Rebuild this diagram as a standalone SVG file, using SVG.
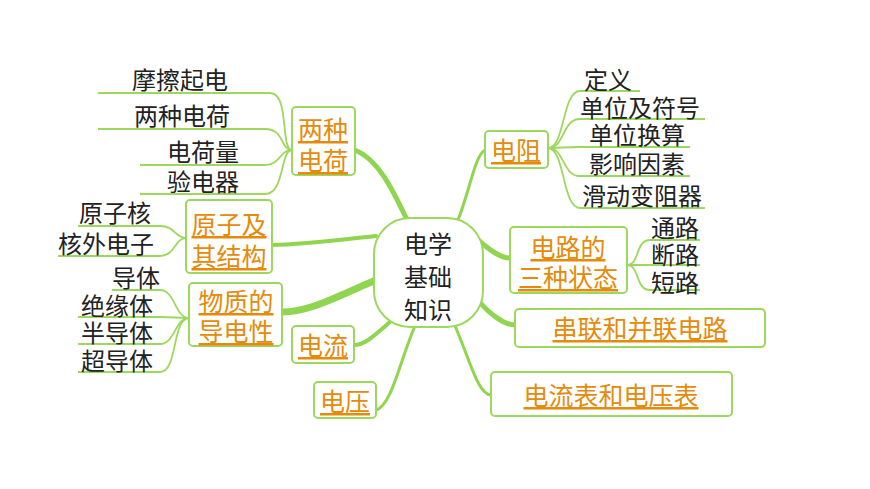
<svg xmlns="http://www.w3.org/2000/svg" width="870" height="489" viewBox="0 0 870 489">
<style>
text{font-family:"Noto Sans CJK SC",sans-serif;font-size:24px;text-anchor:middle}
.leaf{fill:#222}
.t{fill:#E58A0A;text-decoration:underline;font-size:25px}
.box{fill:#fff;stroke:#9CD85E;stroke-width:2}
.br{fill:none;stroke:#8FD54F;stroke-linecap:round}
.ln{fill:none;stroke:#9CD85E;stroke-width:1.8}
</style>
<rect width="870" height="489" fill="#fff"/>
<g id="connectors">
<path class="br" stroke-width="5" d="M408,222 C395,195 380,160 355,150"/>
<path class="br" stroke-width="4" d="M376,236 C340,240 300,245 272,245"/>
<path class="br" stroke-width="7" d="M376,280 C340,295 310,312 282,312"/>
<path class="br" stroke-width="4" d="M390,322 C375,335 365,345 354,345"/>
<path class="br" stroke-width="3" d="M415,326 C400,360 392,405 376,410"/>
<path class="br" stroke-width="3" d="M458,220 C470,190 475,155 485,150"/>
<path class="br" stroke-width="5" d="M478,240 C490,250 500,258 510,258"/>
<path class="br" stroke-width="5" d="M478,300 C490,315 505,325 515,325"/>
<path class="br" stroke-width="3" d="M455,326 C470,360 478,395 491,395"/>
<path class="ln" d="M98,93 H270 C290,93 280,150 292,150"/>
<path class="ln" d="M98,129 H265 C285,129 280,150 292,150"/>
<path class="ln" d="M140,165 H265 C280,165 280,150 292,150"/>
<path class="ln" d="M140,194 H265 C285,194 280,150 292,150"/>
<path class="ln" d="M78,226 H160 C175,226 175,238 186,238"/>
<path class="ln" d="M58,256 H160 C175,256 175,238 186,238"/>
<path class="ln" d="M112,290 H160 C175,290 175,318 189,318"/>
<path class="ln" d="M78,317 H160 C175,317 175,318 189,318"/>
<path class="ln" d="M78,344 H160 C175,344 175,318 189,318"/>
<path class="ln" d="M78,372 H160 C178,372 172,318 189,318"/>
<path class="ln" d="M548,148 C565,148 562,91 580,91 H640"/>
<path class="ln" d="M548,148 C565,148 562,119 580,119 H705"/>
<path class="ln" d="M548,148 C565,148 562,147 580,147 H690"/>
<path class="ln" d="M548,148 C565,148 562,176 580,176 H690"/>
<path class="ln" d="M548,148 C565,148 562,208 580,208 H705"/>
<path class="ln" d="M627,265 C640,265 635,240 650,240 H700"/>
<path class="ln" d="M627,265 H700"/>
<path class="ln" d="M627,265 C640,265 635,290 650,290 H700"/>
</g>
<g id="center"><rect x="374" y="218" width="109" height="109" rx="36" class="box" stroke-width="2.5"/>
<text x="428" y="253" font-size="26" fill="#222">电学</text>
<text x="428" y="286" font-size="26" fill="#222">基础</text>
<text x="428" y="319" font-size="26" fill="#222">知识</text></g>
<g id="n-lzdh"><rect x="292" y="107" width="63" height="68" rx="4" class="box"/>
<text x="323" y="139" class="t">两种</text><text x="323" y="170" class="t">电荷</text></g>
<g id="n-yzj"><rect x="186" y="200" width="86" height="73" rx="4" class="box"/>
<text x="229" y="234" class="t">原子及</text><text x="229" y="266" class="t">其结构</text></g>
<g id="n-wz"><rect x="189" y="283" width="93" height="63" rx="4" class="box"/>
<text x="236" y="311" class="t">物质的</text><text x="236" y="341" class="t">导电性</text></g>
<g id="n-dl"><rect x="292" y="326" width="62" height="37" rx="4" class="box"/>
<text x="323" y="355" class="t">电流</text></g>
<g id="n-dy"><rect x="314" y="382" width="62" height="36" rx="4" class="box"/>
<text x="345" y="411" class="t">电压</text></g>
<g id="n-dz"><rect x="485" y="131" width="63" height="37" rx="4" class="box"/>
<text x="516" y="160" class="t">电阻</text></g>
<g id="n-zt"><rect x="510" y="227" width="117" height="66" rx="4" class="box"/>
<text x="568" y="257" class="t">电路的</text><text x="568" y="287" class="t">三种状态</text></g>
<g id="n-cl"><rect x="515" y="309" width="250" height="38" rx="4" class="box"/>
<text x="640" y="338" class="t">串联和并联电路</text></g>
<g id="n-dlb"><rect x="491" y="372" width="241" height="44" rx="4" class="box"/>
<text x="611" y="405" class="t">电流表和电压表</text></g>
<g id="leaves">
<text x="180" y="89" class="leaf">摩擦起电</text>
<text x="182" y="125" class="leaf">两种电荷</text>
<text x="203" y="161" class="leaf">电荷量</text>
<text x="203" y="191" class="leaf">验电器</text>
<text x="115" y="222" class="leaf">原子核</text>
<text x="106" y="253" class="leaf">核外电子</text>
<text x="136" y="287" class="leaf">导体</text>
<text x="117" y="315" class="leaf">绝缘体</text>
<text x="117" y="342" class="leaf">半导体</text>
<text x="117" y="370" class="leaf">超导体</text>
<text x="608" y="89" class="leaf">定义</text>
<text x="640" y="117" class="leaf">单位及符号</text>
<text x="637" y="144" class="leaf">单位换算</text>
<text x="637" y="173" class="leaf">影响因素</text>
<text x="642" y="205" class="leaf">滑动变阻器</text>
<text x="675" y="237" class="leaf">通路</text>
<text x="675" y="264" class="leaf">断路</text>
<text x="675" y="292" class="leaf">短路</text>
</g>
</svg>
